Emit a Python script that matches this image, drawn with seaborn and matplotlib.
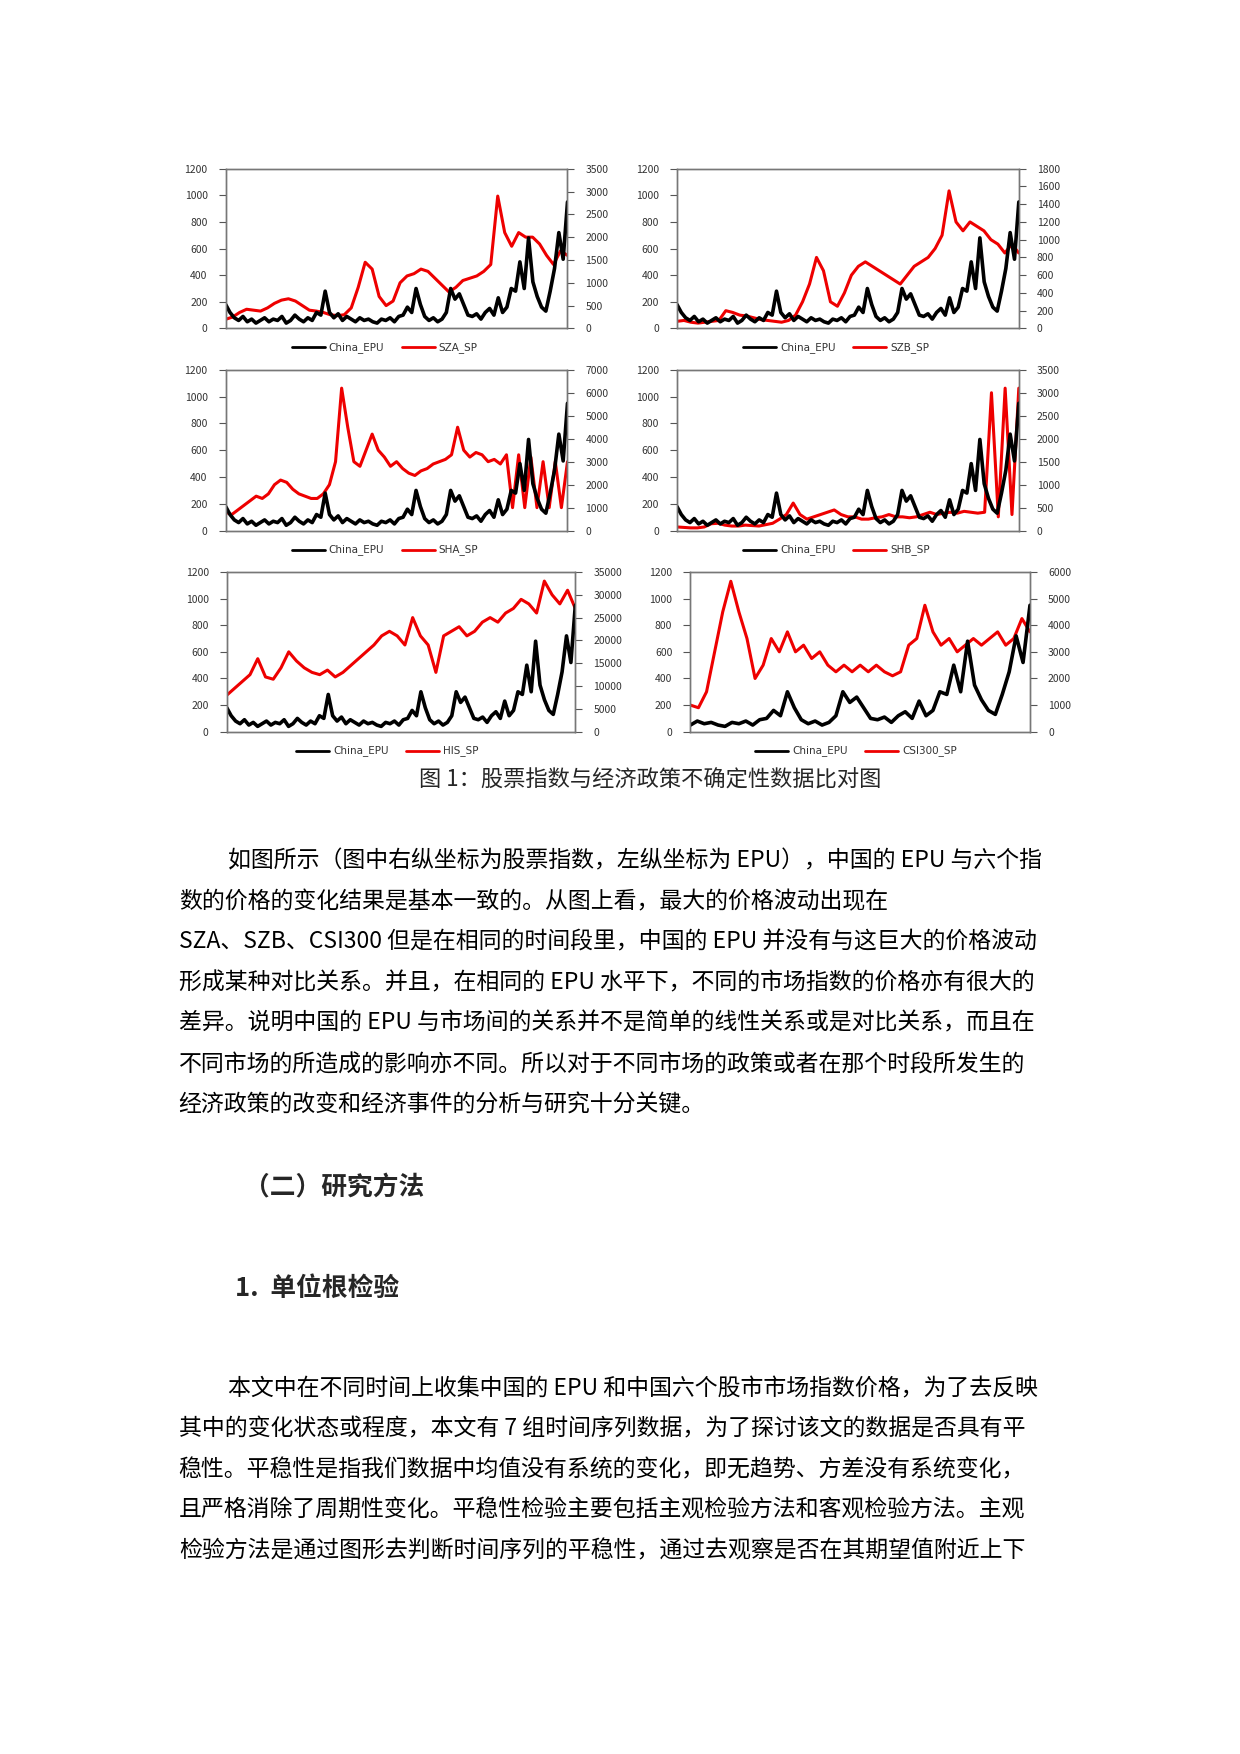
import numpy as np
import matplotlib
matplotlib.use("Agg")
import matplotlib.pyplot as plt
import seaborn as sns

sns.set_theme(style="white")
plt.rcParams['font.family'] = ['Noto Sans CJK SC', 'DejaVu Sans']

epu = [180,120,80,60,90,50,70,40,60,80,50,70,60,90,40,60,100,70,50,80,60,120,100,280,120,80,110,60,90,70,
       50,80,60,70,50,40,70,60,80,50,90,100,160,120,300,180,90,60,80,50,70,120,300,220,260,180,100,90,110,70,
       120,150,100,230,120,160,300,280,500,300,680,350,240,160,130,280,450,720,520,950]
sza = [200,250,350,420,400,380,450,550,620,650,600,500,400,380,350,300,280,300,450,900,1450,1300,700,500,600,
       1000,1150,1200,1300,1250,1100,950,800,900,1050,1100,1150,1250,1400,2900,2100,1800,2100,2000,2000,1850,1600,1400,1700,1600]
szb = [80,90,70,60,70,80,90,200,180,150,140,120,100,90,80,70,90,150,300,500,800,650,300,250,400,600,700,750,700,650,
       600,550,500,600,700,750,800,900,1050,1550,1200,1100,1200,1150,1100,1000,950,850,950,850]
sha = [800,700,900,1100,1300,1500,1400,1600,2000,2200,2100,1800,1600,1500,1400,1400,1600,2000,3000,6200,4500,3000,2800,
       3500,4200,3500,3200,2800,3000,2700,2500,2400,2600,2700,2900,3000,3100,3300,4500,3500,3200,3400,3300,3000,3100,2900,
       3300,1000,3300,1000,3200,1000,3000,1000,3000,1000,3000]
shb = [80,70,60,60,80,150,160,120,100,100,120,110,100,130,160,250,350,600,350,250,300,350,400,450,350,300,300,250,250,
       280,300,350,300,300,280,300,350,400,350,380,400,380,420,400,380,400,3000,300,3100,350,3100]
his = [8000,9500,11000,12500,16000,12000,11500,14000,17500,15500,14000,13000,12500,13500,12000,13000,14500,16000,17500,
       19000,21000,22000,21000,19000,25000,21000,19000,13000,21000,22000,23000,21000,22000,24000,25000,24000,26000,27000,
       29000,28000,26000,33000,30000,28000,31000,27000]
csi = [1000,900,1500,3000,4500,5650,4500,3500,2000,2500,3500,3000,3750,3000,3250,2750,3000,2500,2250,2500,2250,2500,
       2250,2500,2250,2100,2250,3250,3500,4750,3750,3250,3500,3000,3250,3500,3250,3500,3750,3250,3500,4250,3750]

S = 1240 / 1110.0
panels = [
    ("SZA_SP", sza, epu, 3500, 500, (202, 151, 508, 294)),
    ("SZB_SP", szb, epu, 1800, 200, (606, 151, 912, 294)),
    ("SHA_SP", sha, epu, 7000, 1000, (202, 331, 508, 475)),
    ("SHB_SP", shb, epu, 3500, 500, (606, 331, 912, 475)),
    ("HIS_SP", his, epu, 35000, 5000, (203, 512, 515, 655)),
    ("CSI300_SP", csi, epu[30:], 6000, 1000, (618, 512, 922, 655)),
]

W, H = 1240, 1754
fig = plt.figure(figsize=(12.4, 17.54), dpi=100)
fig.patch.set_facecolor("white")

for name, sp, e, rmax, rstep, box in panels:
    x0, y0, x1, y1 = [v * S for v in box]
    ax = fig.add_axes([x0 / W, 1 - y1 / H, (x1 - x0) / W, (y1 - y0) / H])
    sns.lineplot(x=np.linspace(0, 1, len(e)), y=e, ax=ax, color="black", lw=2.6, legend=False)
    ax2 = ax.twinx()
    sns.lineplot(x=np.linspace(0, 1, len(sp)), y=sp, ax=ax2, color="#ee0000", lw=2.2, legend=False)
    ax.set_xlim(0, 1)
    ax.set_ylim(0, 1200)
    ax.set_yticks(range(0, 1201, 200))
    ax2.set_ylim(0, rmax)
    ax2.set_yticks(range(0, rmax + 1, rstep))
    ax.set_xticks([])
    for a in (ax, ax2):
        a.tick_params(axis="y", labelsize=7.5, length=5, width=0.8, color="#555555", labelcolor="#333333", pad=8)
        for s in a.spines.values():
            s.set_color("#777777")
            s.set_linewidth(1)
        a.set_ylabel("")
    ax2.set_zorder(ax.get_zorder() - 1)
    ax.patch.set_visible(False)
    cx = (x0 + x1) / 2
    ly = 1 - (y1 + 17 * S) / H
    fig.lines.append(plt.Line2D([(cx - 105) / W, (cx - 72) / W], [ly, ly], color="black", lw=2, transform=fig.transFigure))
    fig.text((cx - 68) / W, ly, "China_EPU", fontsize=7.5, color="#333333", va="center", family="DejaVu Sans")
    fig.lines.append(plt.Line2D([(cx + 5) / W, (cx + 38) / W], [ly, ly], color="#ee0000", lw=2, transform=fig.transFigure))
    fig.text((cx + 42) / W, ly, name, fontsize=7.5, color="#333333", va="center", family="DejaVu Sans")

fig.text(582 * S / W, 1 - 698 * S / H, "图 1：股票指数与经济政策不确定性数据比对图", fontsize=16, ha="center", va="center")

body1 = [
    (204, 771, "如图所示（图中右纵坐标为股票指数，左纵坐标为 EPU），中国的 EPU 与六个指"),
    (160, 807, "数的价格的变化结果是基本一致的。从图上看，最大的价格波动出现在"),
    (160, 843, "SZA、SZB、CSI300 但是在相同的时间段里，中国的 EPU 并没有与这巨大的价格波动"),
    (160, 880, "形成某种对比关系。并且，在相同的 EPU 水平下，不同的市场指数的价格亦有很大的"),
    (160, 916, "差异。说明中国的 EPU 与市场间的关系并不是简单的线性关系或是对比关系，而且在"),
    (160, 953, "不同市场的所造成的影响亦不同。所以对于不同市场的政策或者在那个时段所发生的"),
    (160, 989, "经济政策的改变和经济事件的分析与研究十分关键。"),
]
body2 = [
    (204, 1243, "本文中在不同时间上收集中国的 EPU 和中国六个股市市场指数价格，为了去反映"),
    (160, 1279, "其中的变化状态或程度，本文有 7 组时间序列数据，为了探讨该文的数据是否具有平"),
    (160, 1316, "稳性。平稳性是指我们数据中均值没有系统的变化，即无趋势、方差没有系统变化，"),
    (160, 1352, "且严格消除了周期性变化。平稳性检验主要包括主观检验方法和客观检验方法。主观"),
    (160, 1388, "检验方法是通过图形去判断时间序列的平稳性，通过去观察是否在其期望值附近上下"),
]
for x, y, t in body1 + body2:
    fig.text(x * S / W, 1 - y * S / H, t, fontsize=16.5, ha="left", va="center", color="black")

fig.text(218 * S / W, 1 - 1063 * S / H, "（二）研究方法", fontsize=18.5, weight="bold", ha="left", va="center")
fig.text(210 * S / W, 1 - 1153 * S / H, "1.  单位根检验", fontsize=18.5, weight="bold", ha="left", va="center")

fig.savefig("out.png", dpi=100, facecolor="white")
